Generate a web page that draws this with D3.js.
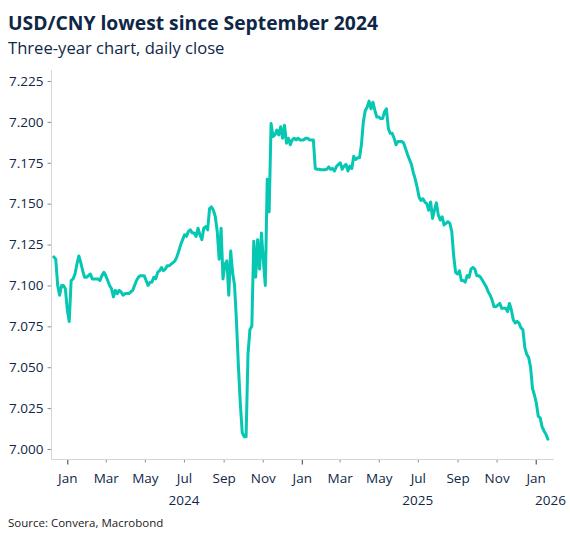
<!DOCTYPE html>
<html><head><meta charset="utf-8">
<script src="https://cdn.jsdelivr.net/npm/d3@7"></script>
<style>
body{margin:0;background:#fff}
svg{display:block}
text{font-family:"Open Sans","Noto Sans",sans-serif}
</style>
</head><body>
<svg id="chart" width="570" height="541"></svg>
<script>
const titleText = "USD/CNY lowest since September 2024";
const subtitleText = "Three-year chart, daily close";
const sourceText = "Source: Convera, Macrobond";

// sampled daily closes, one every 3 calendar days starting 2023-12-11
const startDate = "2023-12-11";
const stepDays = 3;
const closes = [
  7.1175,7.116,7.100,7.094,7.100,7.100,7.098,7.085,7.078,7.103,
  7.104,7.107,7.113,7.118,7.114,7.109,7.105,7.105,7.106,7.107,
  7.104,7.104,7.104,7.104,7.103,7.106,7.108,7.106,7.103,7.100,
  7.098,7.093,7.097,7.095,7.097,7.096,7.094,7.095,7.095,7.095,
  7.096,7.097,7.100,7.103,7.105,7.106,7.106,7.106,7.103,7.100,
  7.102,7.102,7.105,7.104,7.108,7.109,7.111,7.109,7.110,7.112,
  7.112,7.113,7.114,7.115,7.1175,7.121,7.125,7.128,7.131,7.130,
  7.133,7.134,7.132,7.132,7.130,7.135,7.131,7.128,7.135,7.136,
  7.134,7.147,7.148,7.146,7.142,7.133,7.116,7.135,7.104,7.113,
  7.115,7.094,7.121,7.108,7.100,7.078,7.051,7.028,7.010,7.0075,
  7.0075,7.058,7.073,7.075,7.127,7.105,7.128,7.110,7.132,7.115,
  7.100,7.165,7.145,7.199,7.191,7.192,7.195,7.192,7.197,7.190,
  7.198,7.187,7.190,7.186,7.189,7.190,7.189,7.190,7.189,7.189,
  7.189,7.190,7.190,7.189,7.189,7.189,7.1715,7.171,7.171,7.1707,
  7.1707,7.1707,7.171,7.1725,7.171,7.1715,7.170,7.1727,7.174,7.175,
  7.171,7.173,7.174,7.170,7.173,7.1715,7.179,7.177,7.178,7.178,
  7.186,7.200,7.207,7.209,7.2127,7.208,7.212,7.207,7.203,7.203,
  7.202,7.202,7.206,7.208,7.196,7.193,7.193,7.190,7.186,7.188,
  7.188,7.188,7.187,7.1835,7.180,7.177,7.174,7.169,7.165,7.160,
  7.154,7.152,7.153,7.151,7.150,7.146,7.151,7.141,7.146,7.1505,
  7.143,7.140,7.142,7.137,7.138,7.139,7.138,7.133,7.118,7.108,
  7.107,7.109,7.103,7.103,7.102,7.106,7.105,7.110,7.111,7.110,
  7.106,7.106,7.105,7.103,7.101,7.099,7.096,7.094,7.091,7.087,
  7.087,7.088,7.089,7.086,7.086,7.086,7.084,7.089,7.085,7.079,
  7.077,7.078,7.077,7.074,7.073,7.062,7.058,7.056,7.050,7.037,
  7.033,7.028,7.020,7.019,7.0135,7.011,7.009,7.006
];

const yTicks = [7.000, 7.025, 7.050, 7.075, 7.100, 7.125, 7.150, 7.175, 7.200, 7.225];
const monthTickDates = ["2024-01-01","2024-03-01","2024-05-01","2024-07-01","2024-09-01","2024-11-01",
  "2025-01-01","2025-03-01","2025-05-01","2025-07-01","2025-09-01","2025-11-01","2026-01-01"];
const yearLabels = ["2024","2025","2026"];

const W = 570, H = 541;
const textColor = "#0f2746";
const lineColor = "#05c7b2";
const parse = d3.timeParse("%Y-%m-%d");

const start = parse(startDate);
const data = closes.map((v, i) => ({date: d3.timeDay.offset(start, i * stepDays), value: v}));

const svg = d3.select("#chart");

const x = d3.scaleTime()
  .domain([parse("2024-01-01"), parse("2026-01-01")])
  .range([67.3, 535.7]);
const y = d3.scaleLinear()
  .domain([7.000, 7.225])
  .range([449, 81]);

const plotLeft = 51.5, plotRight = 554, plotTop = 70, plotBottom = 459.5;

// Title & subtitle
svg.append("text").attr("x", 8).attr("y", 29.5)
  .attr("font-size", 19.3).attr("font-weight", 700).attr("fill", textColor)
  .text(titleText);
svg.append("text").attr("x", 8).attr("y", 53.5)
  .attr("font-size", 16.6).attr("fill", textColor)
  .text(subtitleText);

// Y axis
const yAxis = svg.append("g").attr("transform", `translate(${plotLeft},0)`)
  .call(d3.axisLeft(y).tickValues(yTicks).tickFormat(d3.format(".3f")).tickSize(4).tickPadding(4));
yAxis.select(".domain").remove();
yAxis.selectAll(".tick line").attr("stroke", "#8c8c8c");
yAxis.selectAll(".tick text").attr("font-size", 13.5).attr("fill", textColor)
  .attr("font-family", '"Open Sans","Noto Sans",sans-serif');
svg.append("line").attr("x1", plotLeft).attr("x2", plotLeft)
  .attr("y1", plotTop).attr("y2", plotBottom).attr("stroke", "#d6d6d6");

// X axis
const monthTicks = monthTickDates.map(parse);
const xAxis = svg.append("g").attr("transform", `translate(0,${plotBottom})`)
  .call(d3.axisBottom(x).tickValues(monthTicks).tickFormat(d3.timeFormat("%b")).tickSize(3).tickPadding(10.5));
xAxis.select(".domain").remove();
xAxis.selectAll(".tick line")
  .attr("stroke", d => d.getMonth() === 0 ? "#3a3a3a" : "#8c8c8c")
  .attr("y2", d => d.getMonth() === 0 ? 5 : 3);
xAxis.selectAll(".tick text").attr("font-size", 13.5).attr("fill", textColor)
  .attr("font-family", '"Open Sans","Noto Sans",sans-serif');
svg.append("line").attr("x1", plotLeft).attr("x2", plotRight)
  .attr("y1", plotBottom).attr("y2", plotBottom).attr("stroke", "#d6d6d6");

// Year labels
yearLabels.forEach(yr => {
  const cx = x(parse(yr + "-07-01"));
  const t = svg.append("text").attr("y", 504.5).attr("font-size", 13.5).attr("fill", textColor).text(yr);
  if (cx > W - 30) t.attr("x", W - 4).attr("text-anchor", "end");
  else t.attr("x", cx).attr("text-anchor", "middle");
});

// Line
svg.append("path").datum(data)
  .attr("fill", "none").attr("stroke", lineColor).attr("stroke-width", 3)
  .attr("stroke-linejoin", "round").attr("stroke-linecap", "round")
  .attr("d", d3.line().x(d => x(d.date)).y(d => y(d.value)));

// Source
svg.append("text").attr("x", 8).attr("y", 526.5)
  .attr("font-size", 11.5).attr("fill", "#1a1a1a")
  .text(sourceText);
</script>
</body></html>
